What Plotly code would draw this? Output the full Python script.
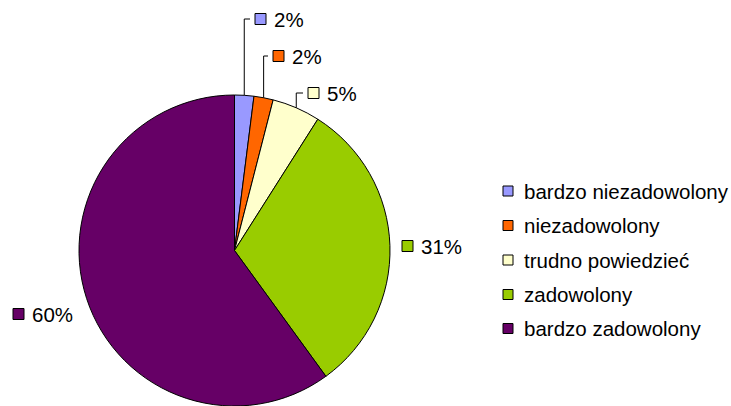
import numpy as np
import plotly.graph_objects as go

# Survey answers and their shares (percent)
categories = ["bardzo niezadowolony", "niezadowolony", "trudno powiedzieć",
              "zadowolony", "bardzo zadowolony"]
shares = [2, 2, 5, 31, 60]
pct_labels = ["2%", "2%", "5%", "31%", "60%"]
colors = ["#9999FF", "#FF6600", "#FFFFCC", "#99CC00", "#660066"]

# Canvas and pie geometry (pixels)
W, H = 731, 406
CX, CY, R = 234.5, 250.5, 155.5

# Data-label anchors: left edge of the key square and vertical centre (px)
label_pos = [(255, 19), (273, 56), (308, 93), (402, 246), (13, 314)]
has_leader = [True, True, True, False, False]

# Legend block (px)
legend_x = 503
legend_y = [191, 225.5, 260, 294.5, 328.5]

FONT = dict(family="Liberation Sans, Arial, sans-serif", size=20.5, color="#000000")


def px(x):
    return x / W


def py(y):
    return 1 - y / H


fig = go.Figure(go.Pie(
    labels=categories,
    values=shares,
    sort=False,
    direction="clockwise",
    rotation=0,
    marker=dict(colors=colors, line=dict(color="#000000", width=1)),
    textinfo="none",
    hoverinfo="label+percent",
    showlegend=False,
    domain=dict(x=[px(CX - R), px(CX + R)], y=[py(CY + R), py(CY - R)]),
))

shapes, annotations = [], []

# Data labels with key squares and leader lines
total = float(sum(shares))
cum = 0.0
for v, txt, col, (lx, ly), lead in zip(shares, pct_labels, colors, label_pos, has_leader):
    theta = 2 * np.pi * (cum + v / 2) / total
    cum += v
    if lead:
        ex = CX + R * np.sin(theta)
        ey = CY - R * np.cos(theta)
        path = (f"M {px(ex)},{py(ey)} L {px(ex)},{py(ly)} L {px(lx - 5)},{py(ly)}")
        shapes.append(dict(type="path", path=path, xref="paper", yref="paper",
                           line=dict(color="#000000", width=1)))
    sq = 11
    shapes.append(dict(type="rect", xref="paper", yref="paper",
                       x0=px(lx), x1=px(lx + sq), y0=py(ly + sq / 2), y1=py(ly - sq / 2),
                       fillcolor=col, line=dict(color="#000000", width=1)))
    annotations.append(dict(text=txt, x=px(lx + sq + 6), y=py(ly), xref="paper", yref="paper",
                            xanchor="left", yanchor="middle", showarrow=False, font=FONT))

# Legend
for name, col, ly in zip(categories, colors, legend_y):
    sq = 10
    shapes.append(dict(type="rect", xref="paper", yref="paper",
                       x0=px(legend_x), x1=px(legend_x + sq), y0=py(ly + sq / 2), y1=py(ly - sq / 2),
                       fillcolor=col, line=dict(color="#000000", width=1)))
    annotations.append(dict(text=name, x=px(legend_x + sq + 9), y=py(ly), xref="paper", yref="paper",
                            xanchor="left", yanchor="middle", showarrow=False, font=FONT))

fig.update_layout(
    width=W, height=H,
    margin=dict(l=0, r=0, t=0, b=0),
    paper_bgcolor="#FFFFFF",
    plot_bgcolor="#FFFFFF",
    shapes=shapes,
    annotations=annotations,
    font=FONT,
)

fig.write_html("out.html")
